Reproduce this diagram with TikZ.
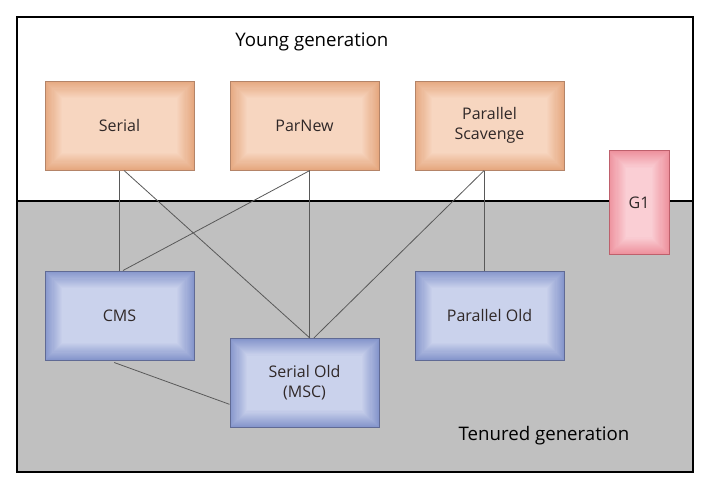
\documentclass[tikz,border=0pt]{standalone}
\usepackage{fontspec}
\setmainfont{Open Sans}
\usetikzlibrary{positioning}
\definecolor{youngin}{RGB}{247,214,192}
\definecolor{youngout}{RGB}{230,168,128}
\definecolor{youngln}{RGB}{180,132,104}
\definecolor{oldin}{RGB}{202,210,236}
\definecolor{oldout}{RGB}{134,150,204}
\definecolor{oldln}{RGB}{96,106,148}
\definecolor{gfin}{RGB}{250,206,212}
\definecolor{gfout}{RGB}{238,146,158}
\definecolor{gfln}{RGB}{190,96,108}
\definecolor{tenured}{RGB}{192,192,192}
\definecolor{gctext}{RGB}{48,40,40}
\tikzset{
  glow/.style 2 args = {path picture={
      \foreach \k in {0,...,16}{
        \pgfmathsetmacro\mixp{100-\k*6.25}
        \fill[#2!\mixp!#1]
          ([shift={(\k*0.8pt,\k*0.8pt)}]path picture bounding box.south west) rectangle
          ([shift={(-\k*0.8pt,-\k*0.8pt)}]path picture bounding box.north east);
      }}},
  gcbox/.style  = {draw, line width=0.75pt, minimum width=111.75pt, minimum height=66.75pt,
                   align=center, inner sep=2pt, font=\fontsize{12}{15}\selectfont, text=gctext},
  young/.style  = {gcbox, draw=youngln, glow={youngin}{youngout}},
  old/.style    = {gcbox, draw=oldln, glow={oldin}{oldout}},
  gfirst/.style = {gcbox, draw=gfln, glow={gfin}{gfout},
                   minimum width=45pt, minimum height=78pt},
  link/.style   = {draw=black!65, line width=0.6pt},
  genlab/.style = {font=\fontsize{14}{16}\selectfont, text=black},
}
\begin{document}
\begin{tikzpicture}[x=0.75pt, y=-0.75pt, node distance=75pt and 26.25pt]
\useasboundingbox (0,0) rectangle (713,487);
% --- the two generations -------------------------------------------------
\fill[white]   (17,17)  rectangle (693,201);
\fill[tenured] (17,201) rectangle (693,472);
\draw[line width=1pt] (17,201) -- (693,201);
\draw[line width=1.1pt] (17,17) rectangle (693,472);
\node[genlab] (younglab) at (311.8,41.7) {Young generation};
\node[genlab] (tenlab)   at (544,436)    {Tenured generation};

% --- collectors ----------------------------------------------------------
\node[young] (serial) at (119.5,125.5) {Serial};
\node[young, right=of serial] (parnew) {ParNew};
\node[young, right=of parnew] (pscav)  {Parallel\\Scavenge};
\node[old, below=of serial] (cms)  {CMS};
\node[old, below=of pscav]  (pold) {Parallel Old};
\node[old, below=125.6pt of parnew] (sold) {Serial Old\\(MSC)};
\node[gfirst] (gone) at (639,202.5) {G1};

% --- which young collector works with which old one ----------------------
\draw[link] (serial.south) -- (cms.north);
\draw[link] ([xshift=3.4pt]serial.south) -- ([xshift=4pt]sold.north);
\draw[link] ([xshift=4pt]parnew.south) -- ([xshift=2.6pt]cms.north);
\draw[link] ([xshift=4pt]parnew.south) -- ([xshift=4pt]sold.north);
\draw[link] ([xshift=-4pt]pscav.south) -- ([xshift=7pt]sold.north);
\draw[link] ([xshift=-4pt]pscav.south) -- ([xshift=-4pt]pold.north);
\draw[link] ([xshift=-4pt,yshift=-1.5pt]cms.south) -- ([yshift=-16pt]sold.west);
\end{tikzpicture}
\end{document}
